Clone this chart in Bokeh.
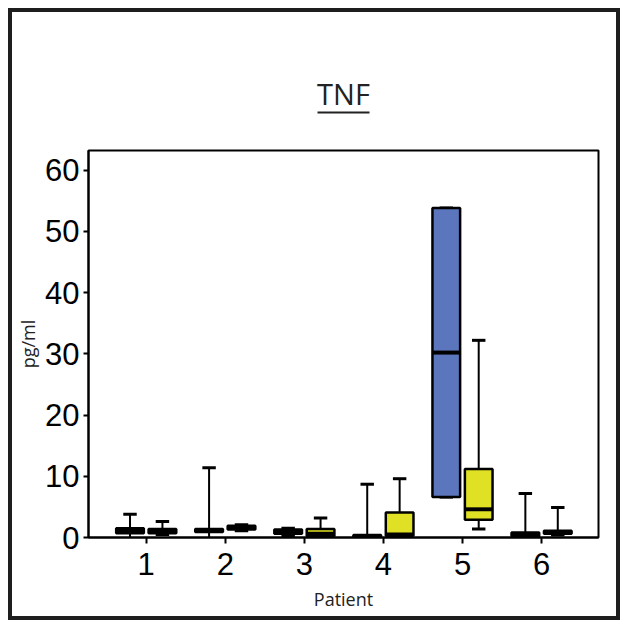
import numpy as np
from bokeh.plotting import figure
from bokeh.models import Range1d, FixedTicker, ColumnDataSource, LinearAxis
from bokeh.embed import file_html
from bokeh.resources import INLINE

patients = [1, 2, 3, 4, 5, 6]

# Series 1 (blue boxes)
blue_min = [-1.3, -1.8, 0.3, 0.0, 6.6, 0.1]
blue_q1 = [0.7, 0.9, 0.6, 0.0, 6.6, 0.2]
blue_med = [1.1, 1.1, 0.9, 0.2, 30.2, 0.5]
blue_q3 = [1.5, 1.4, 1.3, 0.4, 53.8, 0.8]
blue_max = [3.8, 11.4, 1.5, 8.7, 53.8, 7.2]

# Series 2 (yellow boxes)
yellow_min = [0.5, 1.1, 0.1, 0.1, 1.4, 0.4]
yellow_q1 = [0.7, 1.3, 0.2, 0.3, 2.9, 0.6]
yellow_med = [1.0, 1.6, 0.6, 0.5, 4.6, 0.9]
yellow_q3 = [1.4, 1.9, 1.4, 4.1, 11.2, 1.1]
yellow_max = [2.6, 2.1, 3.2, 9.6, 32.2, 4.9]

y_ticks = [0, 10, 20, 30, 40, 50, 60]

BOX_W = 0.35
CAP_W = 0.17
OFFSET = 0.205
X0, X1 = 0.27, 6.72

p = figure(width=612, height=612, output_backend="svg", toolbar_location=None,
           x_range=Range1d(X0, X1), y_range=Range1d(0, 63.2),
           min_border_left=80, min_border_right=22, min_border_top=142, min_border_bottom=83,
           title="TNF",
           styles={"margin": "8px 0 0 8px",
                   "background-color": "white",
                   "box-shadow": "inset 0 0 0 4px #1e1e1e"})

p.background_fill_color = "white"
p.border_fill_alpha = 0
p.outline_line_color = "black"
p.outline_line_width = 2
p.grid.visible = False

p.title.align = "center"
p.title.text_font = "Open Sans"
p.title.text_font_size = "29px"
p.title.text_font_style = "normal"
p.title.text_color = "#222222"
p.title.standoff = 0

# spacer + underline under the title (axes stacked above the frame, title outermost)
mid = 3.5
half = 26 / 79.0
spacer = LinearAxis(ticker=FixedTicker(ticks=[mid]), axis_line_color=None,
                    major_tick_out=38, major_tick_in=0, major_label_standoff=0,
                    major_label_overrides={mid: ""},
                    minor_tick_line_color=None, major_tick_line_color=None)
underline = LinearAxis(ticker=FixedTicker(ticks=[]), axis_line_color="#222222",
                       axis_line_width=2, bounds=((X0 + X1) / 2 - half, (X0 + X1) / 2 + half),
                       major_tick_out=0, major_tick_in=0, major_label_standoff=0,
                       minor_tick_line_color=None, major_tick_line_color=None)
p.add_layout(spacer, "above")
p.add_layout(underline, "above")

def draw(xs_base, mn, q1, med, q3, mx, color):
    x = np.array(xs_base, dtype=float)
    src = ColumnDataSource(dict(
        x=x, xl=x - BOX_W / 2, xr=x + BOX_W / 2,
        cl=x - CAP_W / 2, cr=x + CAP_W / 2,
        mn=mn, q1=q1, med=med, q3=q3, mx=mx))
    p.segment(x0="x", y0="q3", x1="x", y1="mx", source=src, line_color="black", line_width=2)
    p.segment(x0="x", y0="mn", x1="x", y1="q1", source=src, line_color="black", line_width=2)
    p.segment(x0="cl", y0="mx", x1="cr", y1="mx", source=src, line_color="black", line_width=3)
    p.segment(x0="cl", y0="mn", x1="cr", y1="mn", source=src, line_color="black", line_width=3)
    p.vbar(x="x", width=BOX_W, bottom="q1", top="q3", source=src,
           fill_color=color, line_color="black", line_width=2.5)
    p.segment(x0="xl", y0="med", x1="xr", y1="med", source=src, line_color="black", line_width=4)

px = np.array(patients, dtype=float)
draw(px - OFFSET, blue_min, blue_q1, blue_med, blue_q3, blue_max, "#5b76bd")
draw(px + OFFSET, yellow_min, yellow_q1, yellow_med, yellow_q3, yellow_max, "#e0e024")

# axes
xax = p.below[0]
yax = p.left[0]
xax.ticker = FixedTicker(ticks=patients)
xax.major_label_overrides = {i: str(i) for i in patients}
yax.ticker = FixedTicker(ticks=y_ticks)
for ax in (xax, yax):
    ax.axis_line_color = "black"
    ax.axis_line_width = 2
    ax.major_tick_line_color = "black"
    ax.major_tick_line_width = 2
    ax.major_tick_in = 0
    ax.minor_tick_line_color = None
    ax.major_label_text_font = "Liberation Sans"
    ax.major_label_text_font_size = "31px"
    ax.major_label_text_color = "black"
    ax.axis_label_text_font = "Open Sans"
    ax.axis_label_text_font_size = "18px"
    ax.axis_label_text_font_style = "normal"
    ax.axis_label_text_color = "#222222"

xax.major_tick_out = 6
xax.major_label_standoff = 9
xax.axis_label = "Patient"
xax.axis_label_standoff = 9
yax.major_tick_out = 5
yax.major_label_standoff = 4
yax.axis_label = "pg/ml"
yax.axis_label_standoff = 2

open("out.html", "w").write(file_html(p, INLINE))
